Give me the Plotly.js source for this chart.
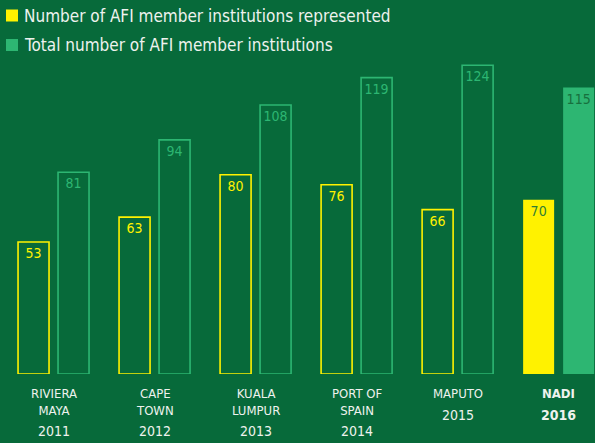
<!DOCTYPE html>
<html>
<head>
<meta charset="utf-8">
<script src="https://cdn.plot.ly/plotly-3.0.1.min.js"></script>
<style>html,body{margin:0;padding:0;background:#076a3a;}#chart{width:595px;height:443px;}</style>
</head>
<body>
<div id="chart"></div>
<script>
// ---- data ----
var categories = ["RIVIERA MAYA", "CAPE TOWN", "KUALA LUMPUR", "PORT OF SPAIN", "MAPUTO", "NADI"];
var nameLines = [["RIVIERA", "MAYA"], ["CAPE", "TOWN"], ["KUALA", "LUMPUR"], ["PORT OF", "SPAIN"], ["MAPUTO"], ["NADI"]];
var years = ["2011", "2012", "2013", "2014", "2015", "2016"];
var represented = [53, 63, 80, 76, 66, 70];
var totalMembers = [81, 94, 108, 119, 124, 115];
var seriesNames = ["Number of AFI member institutions represented", "Total number of AFI member institutions"];

// ---- style ----
var BG = "#076a3a", YEL = "#fff200", GRN = "#2db672", TXT = "#eef2ee";
var FONT = "DejaVu Sans Condensed, DejaVu Sans, sans-serif";
var last = categories.length - 1;

function outlineTrace(vals, color, group) {
  return {
    type: "bar", x: categories.slice(0, last), y: vals.slice(0, last),
    text: vals.slice(0, last).map(String), textposition: "inside", insidetextanchor: "end",
    textfont: {color: color, size: 14, family: FONT}, constraintext: "none",
    marker: {color: "rgba(0,0,0,0)", line: {color: color, width: 1.6}},
    offsetgroup: group, showlegend: false, hoverinfo: "x+y"
  };
}
function filledTrace(vals, color, textColor, group) {
  return {
    type: "bar", x: [categories[last]], y: [vals[last]],
    text: [String(vals[last])], textposition: "inside", insidetextanchor: "end",
    textfont: {color: textColor, size: 14, family: FONT}, constraintext: "none",
    marker: {color: color, line: {width: 0}},
    offsetgroup: group, showlegend: false, hoverinfo: "x+y"
  };
}

var data = [
  outlineTrace(represented, YEL, "rep"),
  filledTrace(represented, YEL, "#2f7d35", "rep"),
  outlineTrace(totalMembers, GRN, "tot"),
  filledTrace(totalMembers, GRN, "#17703e", "tot")
];

var annotations = [];
var shapes = [];
categories.forEach(function (c, i) {
  var bold = (i === last);
  var nm = nameLines[i].join("<br>");
  annotations.push({
    x: c, xref: "x", y: 0, yref: "paper", yanchor: "top", yshift: -10,
    text: bold ? "<b>" + nm + "</b>" : nm, showarrow: false,
    font: {family: FONT, size: 13, color: TXT}, align: "center"
  });
  annotations.push({
    x: c, xref: "x", y: 0, yref: "paper", yanchor: "top",
    yshift: -10 - (nameLines[i].length === 2 ? 37 : 21),
    text: bold ? "<b>" + years[i] + "</b>" : years[i], showarrow: false,
    font: {family: FONT, size: 14, color: TXT}
  });
});

// legend (top-left)
var legendColors = [YEL, GRN];
seriesNames.forEach(function (s, i) {
  var yc = 15.5 + i * 29.5;
  shapes.push({type: "rect", xref: "paper", yref: "paper", xsizemode: "pixel", ysizemode: "pixel",
    xanchor: 0, yanchor: 1, x0: 6, x1: 18, y0: -(yc - 6) + 50, y1: -(yc + 6) + 50,
    fillcolor: legendColors[i], line: {width: 0}});
  annotations.push({
    x: 0, xref: "paper", xanchor: "left", xshift: 22, y: 1, yref: "paper", yanchor: "middle",
    yshift: 50 - yc, text: s, showarrow: false,
    font: {family: FONT, size: 17, color: TXT}
  });
});

var layout = {
  width: 595, height: 443,
  margin: {l: 0, r: 0, t: 50, b: 69, pad: 0},
  paper_bgcolor: BG, plot_bgcolor: BG,
  barmode: "group", bargap: 0.208, bargroupgap: 0.225,
  showlegend: false,
  xaxis: {type: "category", range: [-0.53, 5.36], showticklabels: false, showgrid: false,
    zeroline: false, showline: false, ticks: ""},
  yaxis: {range: [0, 130.1], visible: false, showgrid: false, zeroline: false},
  annotations: annotations, shapes: shapes,
  font: {family: FONT, color: TXT}
};

Plotly.newPlot("chart", data, layout, {displayModeBar: false, staticPlot: true});
</script>
</body>
</html>
